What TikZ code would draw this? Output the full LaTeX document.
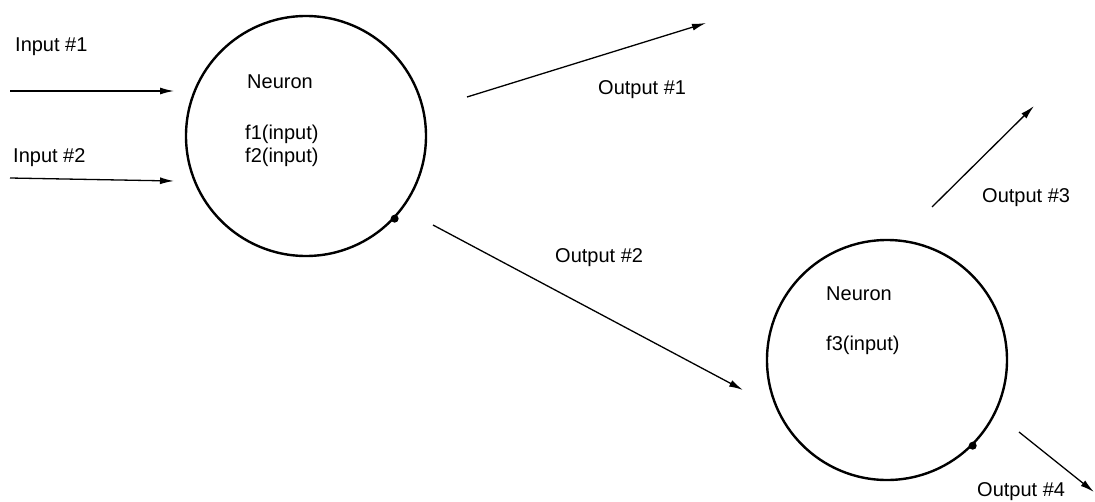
\documentclass[tikz,border=0pt]{standalone}
\usepackage{fontspec}
\setmainfont{Liberation Sans}
\usetikzlibrary{arrows.meta}
\begin{document}
\begin{tikzpicture}[
  x=1pt, y=-1pt,
  neuron/.style={draw, circle, line width=2.4pt, minimum size=240pt, inner sep=0pt},
  lbl/.style={anchor=base west, inner sep=0pt, font=\fontsize{20}{24}\selectfont},
  arr/.style={-{Latex[length=14pt,width=7pt]}, line width=1.3pt},
  joint/.style={fill, circle, inner sep=0pt, minimum size=8pt}
]
\useasboundingbox (0,0) rectangle (1095,501);
\node[neuron] (n1) at (306,136) {};
\node[neuron] (n2) at (887,360) {};
\node[joint] (j1) at (n1.-43) {};
\node[joint] (j2) at (n2.-45) {};

\node[lbl] (in1) at (15,51) {Input \#1};
\node[lbl] (in2) at (13,162) {Input \#2};
\node[lbl] (n1a) at (247,88) {Neuron};
\node[lbl] (n1b) at (245,139) {f1(input)};
\node[lbl] (n1c) at (245,162) {f2(input)};
\node[lbl] (n2a) at (826,300) {Neuron};
\node[lbl] (n2b) at (826,350) {f3(input)};
\node[lbl] (out1) at (598,94) {Output \#1};
\node[lbl] (out2) at (555,262) {Output \#2};
\node[lbl] (out3) at (982,202) {Output \#3};
\node[lbl] (out4) at (977,496) {Output \#4};

\coordinate (in1s) at (10,91);
\coordinate (in1e) at (174,91);
\coordinate (in2s) at (10,178);
\coordinate (in2e) at (174,181);
\coordinate (o1s) at (467,97);
\coordinate (o1e) at (706,23);
\coordinate (o2s) at (433,225);
\coordinate (o2e) at (743,390);
\coordinate (o3s) at (932,207);
\coordinate (o3e) at (1034,106);
\coordinate (o4s) at (1019,432);
\coordinate (o4e) at (1094,492);

\draw[arr] (in1s) -- (in1e);
\draw[arr] (in2s) -- (in2e);
\draw[arr] (o1s) -- (o1e);
\draw[arr] (o2s) -- (o2e);
\draw[arr] (o3s) -- (o3e);
\draw[arr] (o4s) -- (o4e);
\end{tikzpicture}
\end{document}
